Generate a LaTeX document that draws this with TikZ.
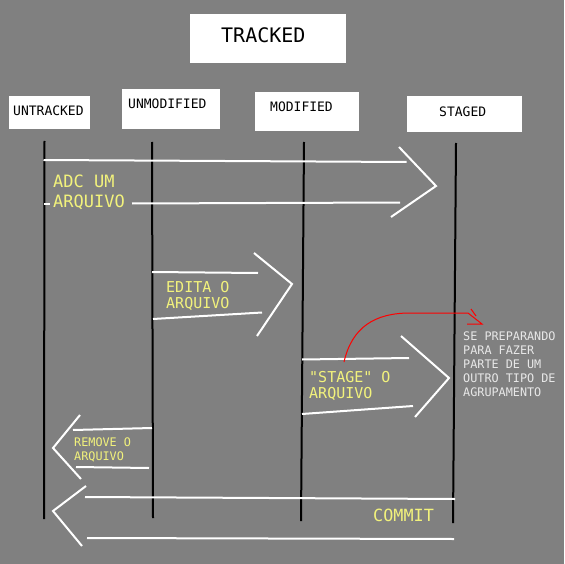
\documentclass[tikz,border=0pt]{standalone}
\usepackage{fontspec}
\newfontfamily\monof{DejaVu Sans Mono}
\definecolor{bg}{HTML}{808080}
\definecolor{ylw}{HTML}{F2F27C}
\definecolor{lgt}{HTML}{E8E8E8}
\tikzset{
  box/.style={fill=white, draw=none, inner sep=0pt, anchor=north west},
  btxt/.style={font=\monof\fontsize{13}{13}\selectfont, text=black, anchor=base west, inner sep=0pt},
  lane/.style={draw=black, line width=2pt},
  wline/.style={draw=white, line width=2pt},
  ytxt/.style={text=ylw, anchor=base west, inner sep=0pt, align=left},
  gtxt/.style={text=lgt, anchor=base west, inner sep=0pt, align=left},
}
\begin{document}
\begin{tikzpicture}[x=1pt,y=-1pt]
\fill[bg] (0,0) rectangle (564,564);
\useasboundingbox (0,0) rectangle (564,564);
% boxes
\node[box, minimum width=156pt, minimum height=49pt] (trk) at (190,14) {};
\node[btxt, font=\monof\fontsize{20}{20}\selectfont] (trkt) at (221,43) {TRACKED};
\node[box, minimum width=81pt, minimum height=33pt] (unt) at (9,96) {};
\node[btxt] (untt) at (13,116) {UNTRACKED};
\node[box, minimum width=98pt, minimum height=40pt] (unm) at (122,89) {};
\node[btxt] (unmt) at (128,109) {UNMODIFIED};
\node[box, minimum width=104pt, minimum height=39pt] (mod) at (255,92) {};
\node[btxt] (modt) at (270,112) {MODIFIED};
\node[box, minimum width=115pt, minimum height=36pt] (stg) at (407,96) {};
\node[btxt] (stgt) at (439,117) {STAGED};
% lanes
\coordinate (l1a) at (44.5,141); \coordinate (l1b) at (44,519);
\coordinate (l2a) at (152,142); \coordinate (l2b) at (153,518);
\coordinate (l3a) at (304,142); \coordinate (l3b) at (301,521);
\coordinate (l4a) at (456,143); \coordinate (l4b) at (453,523);
\draw[lane] (l1a) -- (l1b);
\draw[lane] (l2a) -- (l2b);
\draw[lane] (l3a) -- (l3b);
\draw[lane] (l4a) -- (l4b);
% arrow 1: ADC UM ARQUIVO
\coordinate (a1s) at (43.5,160); \coordinate (a1e) at (406.5,162);
\coordinate (a1h1) at (399,147); \coordinate (a1t) at (436,186); \coordinate (a1h2) at (391,217);
\coordinate (a1b1) at (44,203.5); \coordinate (a1b2) at (50,203.5);
\coordinate (a1b3) at (132,203.5); \coordinate (a1b4) at (400,202.5);
\draw[wline] (a1s) -- (a1e);
\draw[wline] (a1h1) -- (a1t) -- (a1h2);
\draw[wline] (a1b1) -- (a1b2);
\draw[wline] (a1b3) -- (a1b4);
\node[ytxt, font=\monof\fontsize{17}{20}\selectfont] (t1) at (53,207) {ADC UM\\ARQUIVO};
% arrow 2: EDITA O ARQUIVO
\coordinate (a2s) at (152,272); \coordinate (a2e) at (258,273);
\coordinate (a2h1) at (254,253); \coordinate (a2t) at (292,284); \coordinate (a2h2) at (257,336);
\coordinate (a2b1) at (153,319); \coordinate (a2b2) at (262,312.5);
\draw[wline] (a2s) -- (a2e);
\draw[wline] (a2h1) -- (a2t) -- (a2h2);
\draw[wline] (a2b1) -- (a2b2);
\node[ytxt, font=\monof\fontsize{15}{16}\selectfont] (t2) at (166,308) {EDITA O\\ARQUIVO};
% arrow 3: STAGE O ARQUIVO
\coordinate (a3s) at (302,359.5); \coordinate (a3e) at (409,358);
\coordinate (a3h1) at (401,336); \coordinate (a3t) at (449,378); \coordinate (a3h2) at (415,417);
\coordinate (a3b1) at (302,414); \coordinate (a3b2) at (413,406);
\draw[wline] (a3s) -- (a3e);
\draw[wline] (a3h1) -- (a3t) -- (a3h2);
\draw[wline] (a3b1) -- (a3b2);
\node[ytxt, font=\monof\fontsize{15}{16}\selectfont] (t3) at (309,398) {"STAGE" O\\ARQUIVO};
% red curve
\coordinate (r0) at (344,362); \coordinate (r1) at (410,313); \coordinate (r2) at (468,313);
\coordinate (r3) at (482,324); \coordinate (r4) at (467,324);
\coordinate (r5) at (471,309); \coordinate (r6) at (476,316);
\draw[red, line width=1pt] (r0) .. controls (352,327) and (375,313) .. (r1) -- (r2) -- (r3) -- (r4);
\draw[red, line width=1pt] (r5) -- (r6);
\node[gtxt, font=\monof\fontsize{11.8}{14}\selectfont] (t5) at (463,396) {SE PREPARANDO\\PARA FAZER\\PARTE DE UM\\OUTRO TIPO DE\\AGRUPAMENTO};
% arrow 4: REMOVE O ARQUIVO
\coordinate (a4s) at (152,428); \coordinate (a4e) at (73,430);
\coordinate (a4h1) at (80,415); \coordinate (a4t) at (53,448); \coordinate (a4h2) at (81,479);
\coordinate (a4b1) at (149,468); \coordinate (a4b2) at (76,467);
\draw[wline] (a4s) -- (a4e);
\draw[wline] (a4h1) -- (a4t) -- (a4h2);
\draw[wline] (a4b1) -- (a4b2);
\node[ytxt, font=\monof\fontsize{11.8}{14}\selectfont] (t4) at (74,460) {REMOVE O\\ARQUIVO};
% arrow 5: COMMIT
\coordinate (a5s) at (455,499); \coordinate (a5e) at (85,497);
\coordinate (a5h1) at (86,486); \coordinate (a5t) at (53,511); \coordinate (a5h2) at (82,546);
\coordinate (a5b1) at (454,539); \coordinate (a5b2) at (87,538);
\draw[wline] (a5s) -- (a5e);
\draw[wline] (a5h1) -- (a5t) -- (a5h2);
\draw[wline] (a5b1) -- (a5b2);
\node[ytxt, font=\monof\fontsize{16.8}{18}\selectfont] (t6) at (373,521) {COMMIT};
\end{tikzpicture}
\end{document}
